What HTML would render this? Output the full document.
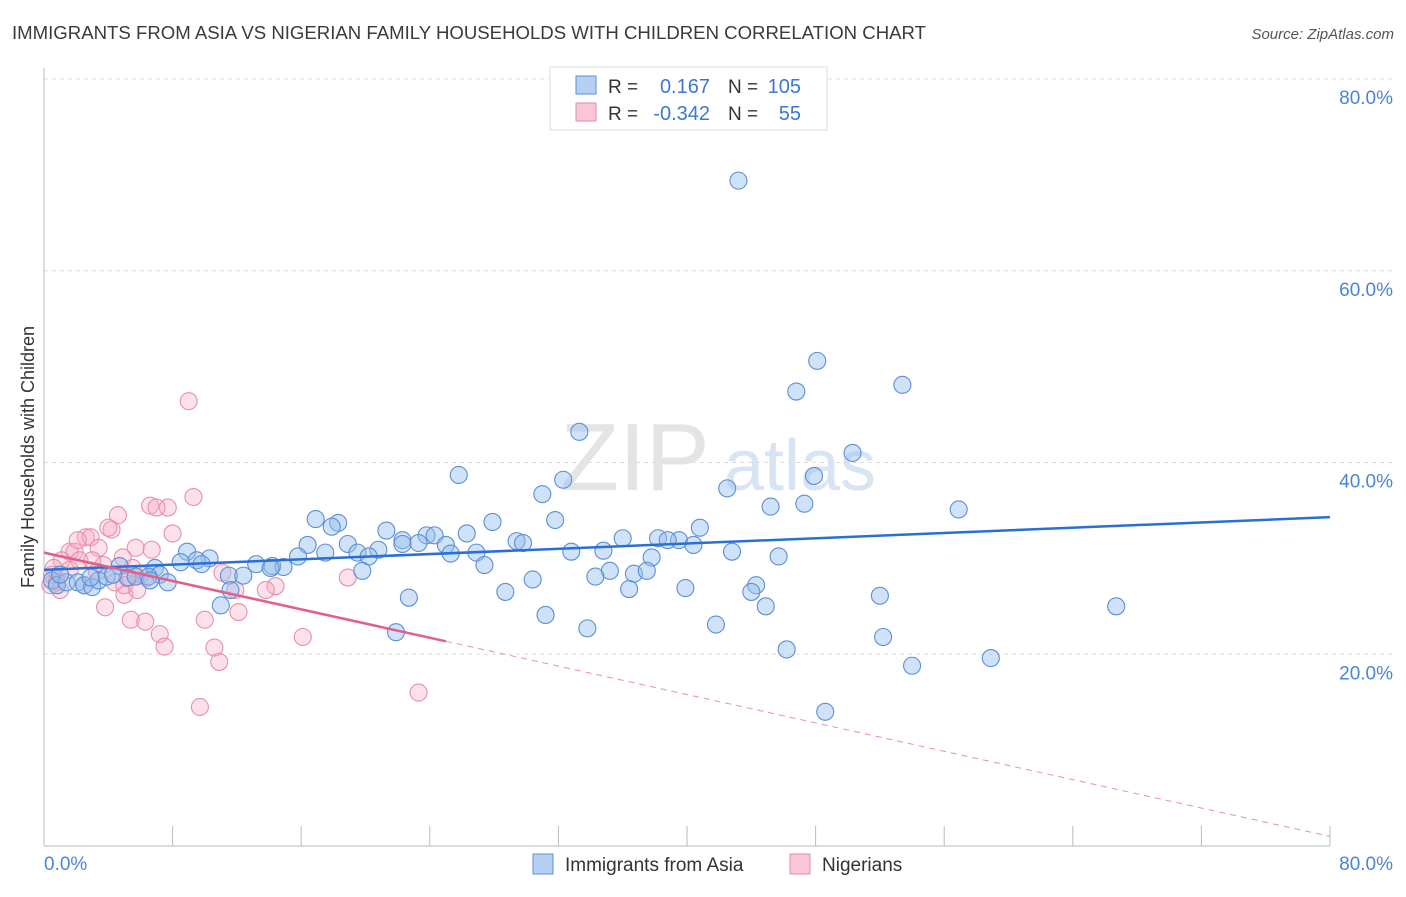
<!DOCTYPE html>
<html><head><meta charset="utf-8"><style>
body{margin:0;background:#fff;font-family:"Liberation Sans",sans-serif}
svg text{font-family:"Liberation Sans",sans-serif}
</style></head><body>
<svg id="c" width="1406" height="892">
<text x="12" y="39" font-size="18.6" fill="#3a3a3a">IMMIGRANTS FROM ASIA VS NIGERIAN FAMILY HOUSEHOLDS WITH CHILDREN CORRELATION CHART</text>
<text x="1394" y="39" font-size="15" fill="#555" text-anchor="end" font-style="italic">Source: ZipAtlas.com</text>
<text x="635" y="490" font-size="96" fill="#e4e4e4" font-family="Liberation Serif" text-anchor="middle">ZIP</text>
<text x="800" y="490" font-size="72" fill="#d6e4f4" text-anchor="middle">atlas</text>
<text transform="translate(34,457) rotate(-90)" font-size="18" fill="#333" text-anchor="middle">Family Households with Children</text>
<g id="grid"></g><g id="pts"></g><g id="lines"></g>
<g>
<rect x="550" y="67" width="277" height="63" fill="#fff" stroke="#ddd"/>
<rect x="576" y="76" width="20" height="18" fill="#b5d0f2" stroke="#5b8fd6"/>
<rect x="576" y="103" width="20" height="18" fill="#f8c6d5" stroke="#e68aa6"/>
<text x="608" y="93" font-size="19" fill="#333">R =</text><text x="710" y="93" font-size="20" fill="#3a78d6" text-anchor="end">0.167</text>
<text x="728" y="93" font-size="19" fill="#333">N =</text><text x="801" y="93" font-size="20" fill="#3a78d6" text-anchor="end">105</text>
<text x="608" y="120" font-size="19" fill="#333">R =</text><text x="710" y="120" font-size="20" fill="#3a78d6" text-anchor="end">-0.342</text>
<text x="728" y="120" font-size="19" fill="#333">N =</text><text x="801" y="120" font-size="20" fill="#3a78d6" text-anchor="end">55</text>
</g>
<g>
<rect x="533" y="854" width="20" height="20" fill="#b5d0f2" stroke="#5b8fd6"/>
<text x="565" y="871" font-size="19" fill="#333">Immigrants from Asia</text>
<rect x="790" y="854" width="20" height="20" fill="#f8c6d5" stroke="#e68aa6"/>
<text x="822" y="871" font-size="19" fill="#333">Nigerians</text>
</g>
</svg>
<script>
const yTicks=[20,40,60,80];
const yTickLabels=["20.0%","40.0%","60.0%","80.0%"];
const xTickLabels=["0.0%","80.0%"];
const asiaX=[43.2,48.1,53.4,46.8,33.3,50.3,25.8,47.9,42.5,31.0,32.3,56.9,45.2,47.3,16.9,18.3,17.9,31.8,27.9,26.3,21.3,23.8,24.3,40.8,36.0,38.2,39.5,38.8,22.3,23.3,25.0,22.3,29.4,29.8,16.4,18.9,20.8,17.5,19.5,20.2,25.3,26.9,40.4,32.8,34.8,42.8,45.7,37.8,15.8,8.9,10.3,9.5,8.5,13.2,14.2,14.9,14.1,9.8,6.9,11.5,12.4,19.8,27.4,35.2,34.3,36.7,37.5,30.4,4.7,7.2,7.7,11.6,22.7,28.7,39.9,44.3,44.0,36.4,52.0,66.7,44.9,11.0,31.2,41.8,33.8,21.9,52.2,46.2,58.9,54.0,48.6,0.5,0.8,1.4,2.1,2.5,3.0,3.4,3.9,5.2,5.7,6.5,4.3,1.0,2.9,6.6];
const asiaY=[69.4,50.6,48.1,47.4,43.2,41.0,38.7,38.6,37.3,36.7,38.2,35.1,35.4,35.7,34.1,33.7,33.3,34.0,33.8,32.6,32.9,32.4,32.4,33.2,32.1,32.1,31.9,31.9,31.9,31.6,31.4,31.5,31.8,31.6,31.4,31.5,30.9,30.6,30.6,30.2,30.5,30.6,31.4,30.7,30.8,30.7,30.2,30.1,30.2,30.7,30.0,29.8,29.6,29.4,29.2,29.1,29.0,29.4,29.0,28.2,28.2,28.7,29.3,28.7,28.1,28.4,28.7,27.8,29.2,28.3,27.5,26.7,25.9,26.5,26.9,27.2,26.5,26.8,26.1,25.0,25.0,25.1,24.1,23.1,22.7,22.3,21.8,20.5,19.6,18.8,14.0,27.7,27.2,27.5,27.5,27.2,27.0,27.7,28.1,28.0,28.1,28.1,28.3,28.3,28.0,27.7];
const nigX=[9.0,9.3,7.7,6.6,7.0,4.6,8.0,4.2,4.0,2.6,2.9,3.4,1.6,1.9,1.1,2.2,5.7,6.7,4.9,3.3,3.7,5.5,6.4,0.5,0.8,0.4,1.0,11.1,18.9,14.4,13.8,11.9,5.0,3.8,2.5,5.4,6.3,10.0,7.2,12.1,16.1,10.6,7.5,10.9,23.3,9.7,5.3,6.0,4.4,1.6,0.6,3.0,2.1,5.0,5.8];
const nigY=[46.4,36.4,35.3,35.5,35.3,34.5,32.6,33.0,33.2,32.2,32.2,31.1,30.7,30.7,29.8,29.8,31.1,30.9,30.1,28.6,29.3,29.0,28.0,28.3,27.5,27.2,26.7,28.5,28.0,27.1,26.7,26.7,26.2,24.9,27.2,23.6,23.4,23.6,22.1,24.4,21.8,20.7,20.8,19.2,16.0,14.5,28.0,28.3,27.5,28.8,29.0,29.8,31.9,27.2,26.7];
const asiaTrend=[28.8,34.3];
const nigTrend=[30.6,1.0];
const nigSolidEnd=25;
const NS="http://www.w3.org/2000/svg";
const X0=44,X1=1330,Y0=846,Y80=79;
const sx=v=>X0+(X1-X0)*v/80, sy=v=>Y0-(Y0-Y80)*v/80;
function mk(t,a,p){const e=document.createElementNS(NS,t);for(const k in a)e.setAttribute(k,a[k]);p.appendChild(e);return e;}
const g=document.getElementById('grid');
yTicks.forEach((v,i)=>{
 const l=mk('line',{x1:X0,x2:1394,y1:sy(v),y2:sy(v),stroke:'#ddd','stroke-dasharray':'4,4'},g);
 
 
 const t=mk('text',{x:1393,y:sy(v)+25,'font-size':19,fill:'#4a84da','text-anchor':'end'},g);t.textContent=yTickLabels[i];
 
 
});
mk('line',{x1:X0,x2:X0,y1:68,y2:Y0,stroke:'#bbb'},g);
mk('line',{x1:X0,x2:X1,y1:Y0,y2:Y0,stroke:'#bbb'},g);
for(let i=0;i<=10;i++){mk('line',{x1:sx(i*8),x2:sx(i*8),y1:826,y2:Y0,stroke:'#bbb'},g);}
[[0,'start',X0],[80,'end',1393]].forEach((d,i)=>{const t=mk('text',{x:d[2],y:870,'font-size':19,fill:'#4a84da','text-anchor':d[1]},g);t.textContent=xTickLabels[i];
 
 });
const p=document.getElementById('pts');
nigX.forEach((x,i)=>{const c=mk('circle',{cx:sx(x),cy:sy(nigY[i]),r:8.5,fill:'rgba(245,170,195,0.35)',stroke:'#e890ab','stroke-width':1.1},p);
 
 });
asiaX.forEach((x,i)=>{const c=mk('circle',{cx:sx(x),cy:sy(asiaY[i]),r:8.5,fill:'rgba(150,190,238,0.45)',stroke:'#5b8fd6','stroke-width':1.1},p);
 
 });
const L=document.getElementById('lines');
const nf=x=>nigTrend[0]+(nigTrend[1]-nigTrend[0])*x/80;
const a=mk('line',{x1:sx(0),y1:sy(asiaTrend[0]),x2:sx(80),y2:sy(asiaTrend[1]),stroke:'#2a6fd6','stroke-width':2.5},L);


const n1=mk('line',{x1:sx(0),y1:sy(nf(0)),x2:sx(nigSolidEnd),y2:sy(nf(nigSolidEnd)),stroke:'#e0608a','stroke-width':2.5},L);


const n2=mk('line',{x1:sx(nigSolidEnd),y1:sy(nf(nigSolidEnd)),x2:sx(80),y2:sy(nf(80)),stroke:'#e890ab','stroke-width':1,'stroke-dasharray':'6,5'},L);


</script>
</body></html>
